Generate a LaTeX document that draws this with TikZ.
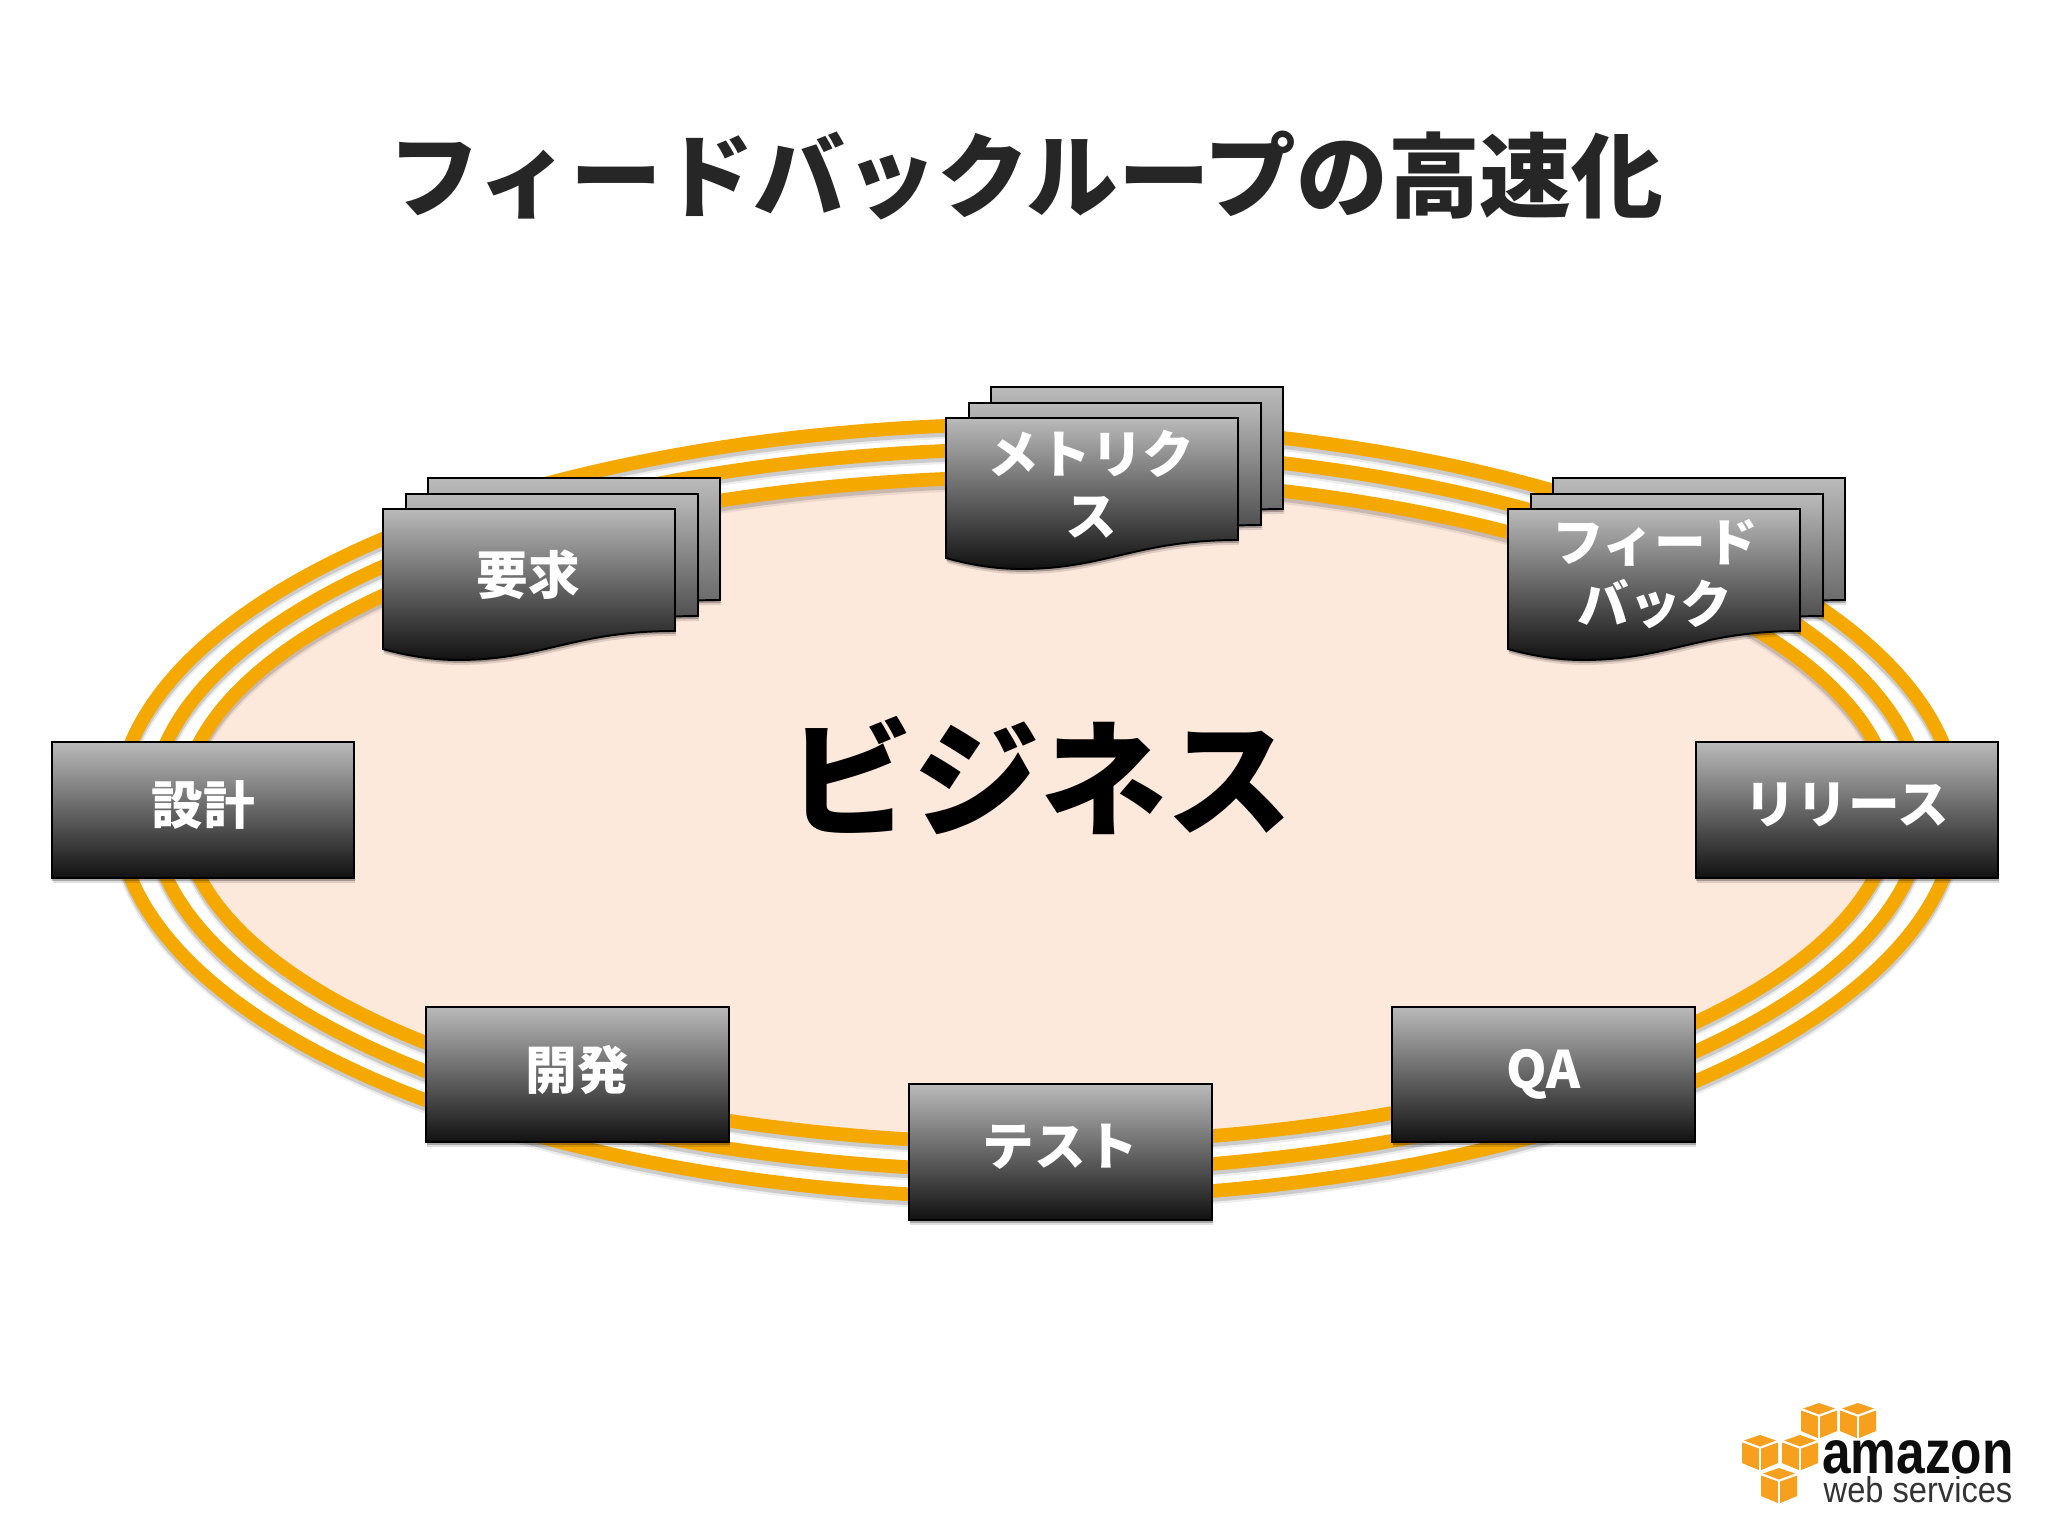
\documentclass[tikz,border=0pt]{standalone}
\usepackage{graphicx}
\usepackage{fontspec}
\setmainfont{Noto Sans CJK JP}
\newfontfamily\logofont{Liberation Sans}
\usetikzlibrary{shadows}
\definecolor{ringcol}{HTML}{F5A800}
\definecolor{peach}{HTML}{FDE8DC}
\definecolor{cubecol}{HTML}{F7A01E}
\definecolor{boxtop}{HTML}{BABABA}
\definecolor{boxmid}{HTML}{787878}
\definecolor{boxbot}{HTML}{111111}
\tikzset{
  ringline/.style={draw=ringcol,line width=3.9pt},
  softshadow/.style={
    drop shadow={shadow xshift=0.3pt,shadow yshift=-1.4pt,opacity=.12,fill=black},
    drop shadow={shadow xshift=0.2pt,shadow yshift=-0.8pt,opacity=.25,fill=black}},
  boxshade/.style={draw=black,line width=0.55pt,top color=boxtop,middle color=boxmid,bottom color=boxbot},
  backsheet/.style={draw=black,line width=0.55pt,top color=boxtop,bottom color=black!#1},
  procbox/.style={boxshade,softshadow,rectangle,inner sep=0pt,minimum width=86.1pt,minimum height=38.6pt,
    text=white,align=center,font=\fontsize{14.7}{17.5}\selectfont\bfseries},
  doclabel/.style={text=white,align=center,inner sep=0pt,font=\fontsize{14.7}{17.5}\selectfont\bfseries},
  cubeface/.style={fill=cubecol,draw=none},
  x=0.01cm,y=-0.01cm
}
\newcommand{\lifted}[1]{\raisebox{1.4pt}[\height][\depth]{#1}}
% one sheet of a document: style, left, top of the sheet
\newcommand{\docsheet}[3]{%
  \begin{scope}[shift={(#2,#3)}]
  \path[#1,softshadow] (0,0) -- (292,0) -- (292,122)
    .. controls (190,122) and (160,151) .. (75,151)
    .. controls (50,151) and (25,147) .. (0,140) -- cycle;
  \end{scope}}
\newcommand{\docstack}[2]{%
  \docsheet{backsheet=65}{\the\numexpr#1+45\relax}{\the\numexpr#2-31\relax}%
  \docsheet{backsheet=78}{\the\numexpr#1+23\relax}{\the\numexpr#2-15\relax}%
  \docsheet{boxshade}{#1}{#2}}
% one AWS cube: centre x, top y
\newcommand{\awscube}[2]{%
  \begin{scope}[shift={(#1,#2)}]
    \fill[cubeface] (0,0) -- (16,5.5) -- (0,11.5) -- (-16,5.5) -- cycle;
    \fill[cubeface] (-18,7.5) -- (-1.2,13.5) -- (-1.2,35) -- (-18,28) -- cycle;
    \fill[cubeface] (18,7.5) -- (1.2,13.5) -- (1.2,35) -- (18,28) -- cycle;
  \end{scope}}
\begin{document}
\begin{tikzpicture}
\useasboundingbox (0,0) rectangle (2048,1536);
\fill[white] (0,0) rectangle (2048,1536);

% title
\node[inner sep=0pt,text=black!85,font=\fontsize{26.1}{30}\selectfont\bfseries] (title) at (1026,176) {フィードバックループの高速化};

% rings with soft shadows
\fill[peach] (1037,810) ellipse [x radius=855,y radius=333];
\foreach \a/\b/\c in {920/387/811,886/361/810,855/333/810}{
  \draw[black,opacity=.07,line width=4.6pt] (1037,\c+5) ellipse [x radius=\a,y radius=\b];
  \draw[black,opacity=.14,line width=3.9pt] (1037,\c+4) ellipse [x radius=\a,y radius=\b];
}
\foreach \a/\b/\c in {920/387/811,886/361/810,855/333/810}{
  \draw[ringline] (1037,\c) ellipse [x radius=\a,y radius=\b];
}

% business label
\node[inner sep=0pt,text=black,font=\fontsize{35.9}{40}\selectfont\bfseries] (biz) at (1040,775) {ビジネス};

% process boxes
\node[procbox] (sekkei) at (203,810) {\lifted{設計}};
\node[procbox] (release) at (1847,810) {\lifted{リリース}};
\node[procbox] (kaihatsu) at (577.5,1074.5) {\lifted{開発}};
\node[procbox] (qa) at (1543.5,1074.5) {QA};
\node[procbox] (test) at (1060.5,1152) {\lifted{テスト}};

% document stacks
\docstack{383}{509}
\docstack{946}{418}
\docstack{1508}{509}
\node[doclabel] (yokyu) at (528,575) {要求};
\node[doclabel] (metrics) at (1091,484) {メトリク\\ス};
\node[doclabel] (feedback) at (1655,574) {フィード\\バック};

% logo
\awscube{1819}{1403}
\awscube{1858}{1403}
\awscube{1760}{1435}
\awscube{1800}{1435}
\awscube{1779}{1468}
\node[anchor=base,inner sep=0pt,text=black!95] (amazon) at (1918,1473)
  {\logofont\bfseries\fontsize{17.4}{20}\selectfont\scalebox{.84}[1]{amazon}};
\node[anchor=base,inner sep=0pt,text=black!80] (aws) at (1918,1502)
  {\logofont\fontsize{10.2}{12}\selectfont\scalebox{.91}[1]{web services}};
\end{tikzpicture}
\end{document}
